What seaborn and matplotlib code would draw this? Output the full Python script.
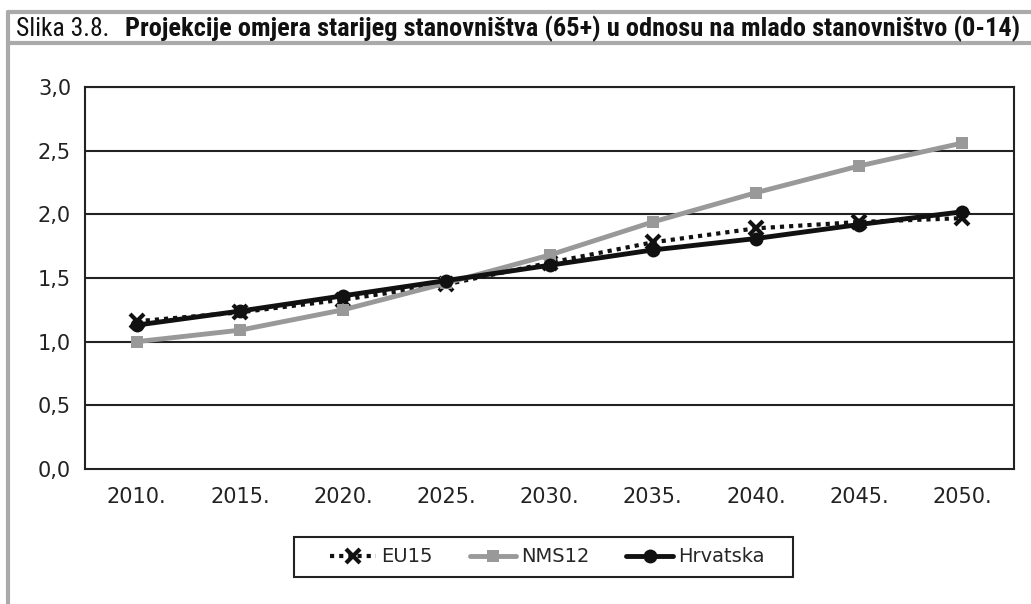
import matplotlib
matplotlib.use("Agg")
import matplotlib.pyplot as plt
from matplotlib import font_manager
from matplotlib.lines import Line2D
from matplotlib.patches import Rectangle
import seaborn as sns
import pandas as pd

years = ["2010.", "2015.", "2020.", "2025.", "2030.", "2035.", "2040.", "2045.", "2050."]
eu15 = [1.16, 1.23, 1.33, 1.45, 1.62, 1.78, 1.89, 1.94, 1.97]
nms12 = [1.00, 1.09, 1.25, 1.46, 1.68, 1.94, 2.17, 2.38, 2.56]
hrvatska = [1.13, 1.24, 1.36, 1.48, 1.60, 1.72, 1.81, 1.92, 2.02]
yticks = [0.0, 0.5, 1.0, 1.5, 2.0, 2.5, 3.0]
ytick_labels = ["0,0", "0,5", "1,0", "1,5", "2,0", "2,5", "3,0"]
title_normal = "Slika 3.8."
title_bold = "Projekcije omjera starijeg stanovništva (65+) u odnosu na mlado stanovništvo (0-14)"

sns.set_theme(style="white")
plt.rcParams['font.family'] = ['DejaVu Sans']

available = {f.name for f in font_manager.fontManager.ttflist}
narrow = None
for cand in ["Liberation Sans Narrow", "Roboto Condensed", "Open Sans Condensed", "DejaVu Sans Condensed"]:
    if cand in available:
        narrow = cand
        break
if narrow is None:
    narrow = "Roboto"

df = pd.DataFrame({"year": years * 3,
                   "value": eu15 + nms12 + hrvatska,
                   "series": ["EU15"] * 9 + ["NMS12"] * 9 + ["Hrvatska"] * 9})

W, H = 1031, 604
fig = plt.figure(figsize=(W / 100, H / 100), dpi=100)
ax = fig.add_axes([85 / W, 1 - 469 / H, (1014 - 85) / W, (469 - 87) / H])

styles = {
    "EU15": dict(color="#111111", linestyle=(0, (1, 1.2)), linewidth=3, marker="x", markersize=10, markeredgewidth=3),
    "NMS12": dict(color="#999999", linestyle="-", linewidth=3.5, marker="s", markersize=9, markeredgewidth=0),
    "Hrvatska": dict(color="#111111", linestyle="-", linewidth=3.5, marker="o", markersize=10, markeredgewidth=0),
}
for name in ["EU15", "NMS12", "Hrvatska"]:
    sub = df[df["series"] == name]
    st = styles[name]
    sns.lineplot(data=sub, x="year", y="value", ax=ax, color=st["color"], linewidth=st["linewidth"],
                 marker=st["marker"], markersize=st["markersize"], markeredgewidth=st["markeredgewidth"],
                 markeredgecolor=st["color"], legend=False, sort=False)
    ax.lines[-1].set_linestyle(st["linestyle"])

ax.set_xlim(-0.5, len(years) - 0.5)
ax.set_ylim(0, 3.0)
ax.set_yticks(yticks)
ax.set_yticklabels(ytick_labels, fontsize=15, color="#222222")
ax.set_xticks(range(len(years)))
ax.set_xticklabels(years, fontsize=15, color="#222222")
ax.tick_params(axis="x", length=0, pad=13)
ax.set_xticks([i + 0.5 for i in range(-1, len(years))], minor=True)
ax.tick_params(axis="x", which="minor", length=6, width=1.5, color="#222222", direction="out")
ax.tick_params(axis="y", length=6, width=1.5, color="#222222", direction="out", pad=4)
ax.set_xlabel("")
ax.set_ylabel("")
ax.grid(False)
for yv in yticks[1:]:
    ax.axhline(yv, color="#222222", linewidth=1.5, zorder=0)
for s in ax.spines.values():
    s.set_visible(True)
    s.set_color("#222222")
    s.set_linewidth(1.5)

handles = []
for name in ["EU15", "NMS12", "Hrvatska"]:
    st = styles[name]
    handles.append(Line2D([], [], color=st["color"], linestyle=st["linestyle"], linewidth=st["linewidth"],
                          marker=st["marker"], markersize=st["markersize"], markeredgewidth=st["markeredgewidth"],
                          markeredgecolor=st["color"]))
leg = fig.legend(handles, ["EU15", "NMS12", "Hrvatska"], loc="center", bbox_to_anchor=(547 / W, 1 - 557 / H),
                 ncol=3, frameon=False, fontsize=14, handlelength=2.4, handletextpad=0.25,
                 columnspacing=1.9, borderpad=0.3)
fig.add_artist(Rectangle((294 / W, 1 - 577 / H), (793 - 294) / W, 40 / H, transform=fig.transFigure,
                         facecolor="none", edgecolor="#222222", linewidth=1.5))

# frame lines
gray = "#aaaaaa"
fig.add_artist(Line2D([8 / W, 1], [1 - 12 / H, 1 - 12 / H], color=gray, linewidth=3, transform=fig.transFigure))
fig.add_artist(Line2D([8 / W, 1], [1 - 43 / H, 1 - 43 / H], color=gray, linewidth=3, transform=fig.transFigure))
fig.add_artist(Line2D([8 / W, 8 / W], [1 - 12 / H, 0], color=gray, linewidth=3, transform=fig.transFigure))

# title, fitted to width
t1 = fig.text(16 / W, 1 - 36 / H, title_normal, fontsize=14, family=narrow, color="#111111", va="baseline")
t2 = fig.text(125 / W, 1 - 36 / H, title_bold, fontsize=14, family=narrow, weight="bold", color="#111111", va="baseline")
fig.canvas.draw()
r = fig.canvas.get_renderer()
w1 = t1.get_window_extent(r).width
w2 = t2.get_window_extent(r).width
t1.set_fontsize(14 * (110 - 16) / w1)
t2.set_fontsize(14 * (1023 - 125) / w2)

fig.savefig("out.png", dpi=100)
